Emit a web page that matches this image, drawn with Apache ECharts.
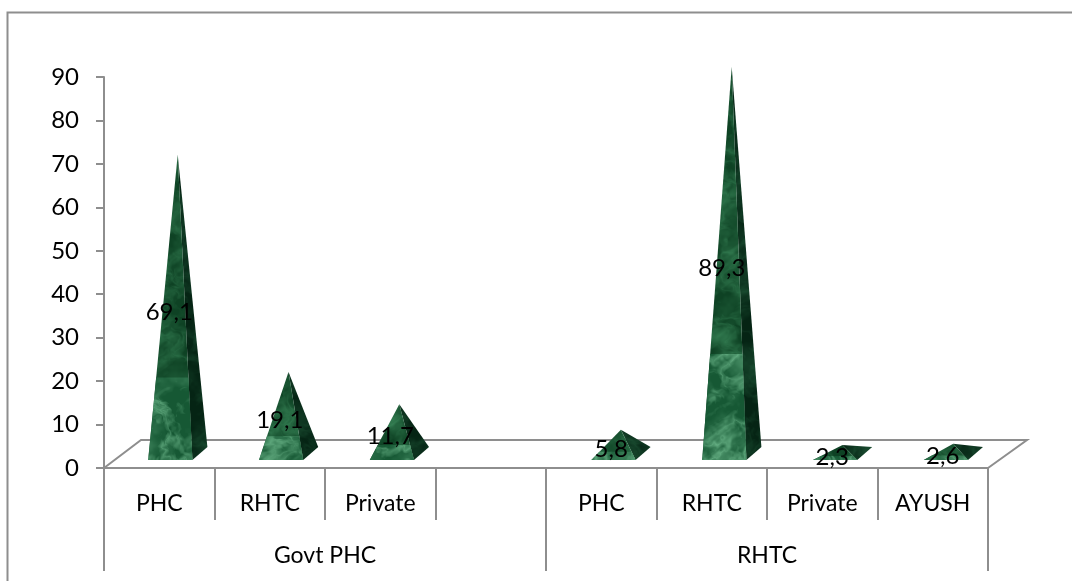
<!DOCTYPE html>
<html>
<head>
<meta charset="utf-8">
<style>
  html, body { margin: 0; padding: 0; background: #fff; }
  #chart { width: 1072px; height: 581px; }
</style>
<script src="https://cdn.jsdelivr.net/npm/echarts@6/dist/echarts.min.js"></script>
</head>
<body>
<div id="chart"></div>
<script>
const categories = ['PHC', 'RHTC', 'Private', '', 'PHC', 'RHTC', 'Private', 'AYUSH']
const groups = ['Govt PHC', 'RHTC']
const values = [69.1, 19.1, 11.7, null, 5.8, 89.3, 2.3, 2.6]
const yTicks = { min: 0, max: 90, interval: 10 }

const FONT = 'Lato'
const FONT_SIZE = 24
const X_FONT_SIZE = 23
const GREY = '#8e8e8e'

// depth of the fake 3D floor, in pixels
const DEPTH_X = 37
const DEPTH_Y = 28

// smooth lattice noise, fixed by its hash so the fill is the same every run
const hash = (x, y) => {
  const s = Math.sin(x * 127.1 + y * 311.7) * 43758.5453
  return s - Math.floor(s)
}
const smooth = t => t * t * (3 - 2 * t)
const noise = (x, y) => {
  const ix = Math.floor(x)
  const iy = Math.floor(y)
  const fx = smooth(x - ix)
  const fy = smooth(y - iy)
  const a = hash(ix, iy) + (hash(ix + 1, iy) - hash(ix, iy)) * fx
  const b = hash(ix, iy + 1) + (hash(ix + 1, iy + 1) - hash(ix, iy + 1)) * fx
  return a + (b - a) * fy
}
const fbm = (x, y) => noise(x, y) * 0.5 + noise(x * 2.1, y * 2.1) * 0.27 + noise(x * 4.3, y * 4.3) * 0.15 + noise(x * 8.7, y * 8.7) * 0.08

// green marble fill, used as a repeating pattern
const marbleTile = (dark, light, gain) => {
  const size = 512
  const canvas = document.createElement('canvas')
  canvas.width = canvas.height = size
  const ctx = canvas.getContext('2d')
  const img = ctx.createImageData(size, size)
  for (let y = 0; y < size; y++) {
    for (let x = 0; x < size; x++) {
      const warp = fbm(x / 38, y / 38)
      const vein = 1 - Math.abs(2 * fbm(x / 22 + warp * 2.2, y / 22 - warp * 1.6) - 1) * 3.4
      let t = (fbm(x / 30 + 9, y / 30 + 4) - 0.38) * 1.2 + Math.max(0, vein) * gain
      t = Math.max(0, Math.min(1, t))
      const i = (y * size + x) * 4
      for (let c = 0; c < 3; c++) img.data[i + c] = dark[c] + (light[c] - dark[c]) * t
      img.data[i + 3] = 255
    }
  }
  ctx.putImageData(img, 0, 0)
  return canvas
}

const marble = { image: marbleTile([14, 66, 36], [58, 136, 90], 0.3), repeat: 'repeat' }
const marbleLight = { image: marbleTile([22, 88, 52], [104, 178, 134], 0.55), repeat: 'repeat' }
const marbleSide = { image: marbleTile([5, 36, 20], [30, 84, 54], 0.32), repeat: 'repeat' }

const renderFloor = (params, api) => {
  const g = params.coordSys
  const bottom = g.y + g.height
  const right = g.x + g.width
  return {
    type: 'polyline',
    silent: true,
    shape: {
      points: [
        [g.x, bottom],
        [g.x + DEPTH_X, bottom - DEPTH_Y],
        [right + DEPTH_X + 2, bottom - DEPTH_Y],
        [right, bottom]
      ]
    },
    style: { fill: null, stroke: GREY, lineWidth: 2 }
  }
}

const renderPyramid = (params, api) => {
  const value = api.value(1)
  if (isNaN(value)) return
  const idx = api.value(0)
  const [cx, top] = api.coord([idx, value])
  const [, zero] = api.coord([idx, 0])
  const band = api.size([1, 0])[0]

  // base corners, front edge sits a bit right of the band centre
  const drift = idx * 0.3
  const left = cx - band * 0.1 + drift
  const right = cx + band * 0.3 + drift
  const front = zero - 8
  const back = zero - 21
  const apex = [cx + band * 0.167 + drift, top - 13]
  const along = (p, t) => [p[0] + (apex[0] - p[0]) * t, p[1] + (apex[1] - p[1]) * t]

  const face = (points, fill) => ({ type: 'polygon', shape: { points }, style: { fill } })

  // the texture is stretched over each face, so the lower part reads brighter
  const band1 = 0.27

  return {
    type: 'group',
    children: [
      face([[right, front], [right + 15, back], apex], marbleSide),
      face([[left, front], [right, front], apex], marble),
      face([[left, front], [right, front], along([right, front], band1), along([left, front], band1)], marbleLight),
      {
        type: 'text',
        z2: 10,
        style: {
          x: cx + 10,
          y: (zero + top) / 2 - 6,
          text: String(value).replace('.', ','),
          font: FONT_SIZE + 'px ' + FONT,
          fill: '#000',
          align: 'center',
          verticalAlign: 'middle'
        }
      }
    ]
  }
}

const chart = echarts.init(document.getElementById('chart'), null, { renderer: 'canvas' })

chart.setOption({
  animation: false,
  backgroundColor: '#fff',
  textStyle: { fontFamily: FONT },
  graphic: [{
    type: 'polyline',
    silent: true,
    shape: { points: [[7.5, 581], [7.5, 12.5], [1072, 12.5]] },
    style: { fill: null, stroke: GREY, lineWidth: 2 }
  }],
  grid: { left: 104, right: 84, top: 77, bottom: 113 },
  xAxis: [
    {
      type: 'category',
      data: categories,
      position: 'bottom',
      axisLine: { show: true, lineStyle: { color: GREY, width: 2 } },
      axisTick: { show: true, alignWithLabel: false, length: 52, lineStyle: { color: GREY, width: 2 } },
      axisLabel: { interval: 0, margin: 24, fontSize: X_FONT_SIZE, color: '#000', fontFamily: FONT },
      splitLine: { show: false }
    },
    {
      type: 'category',
      data: groups,
      position: 'bottom',
      axisLine: { show: false },
      axisTick: { show: true, length: 103, lineStyle: { color: GREY, width: 2 } },
      axisLabel: { interval: 0, margin: 76, fontSize: X_FONT_SIZE, color: '#000', fontFamily: FONT },
      splitLine: { show: false }
    }
  ],
  yAxis: {
    type: 'value',
    min: yTicks.min,
    max: yTicks.max,
    interval: yTicks.interval,
    axisLine: { show: true, lineStyle: { color: GREY, width: 2 } },
    axisTick: { show: true, length: 8, lineStyle: { color: GREY, width: 2 } },
    axisLabel: { margin: 25, fontSize: FONT_SIZE, color: '#000', fontFamily: FONT },
    splitLine: { show: false }
  },
  series: [
    {
      type: 'custom',
      silent: true,
      z: 1,
      renderItem: renderFloor,
      data: [[0, 0]]
    },
    {
      type: 'custom',
      silent: true,
      z: 3,
      renderItem: renderPyramid,
      encode: { x: 0, y: 1 },
      data: values.map((v, i) => [i, v])
    }
  ]
})

window.addEventListener('resize', () => chart.resize())
</script>
</body>
</html>
